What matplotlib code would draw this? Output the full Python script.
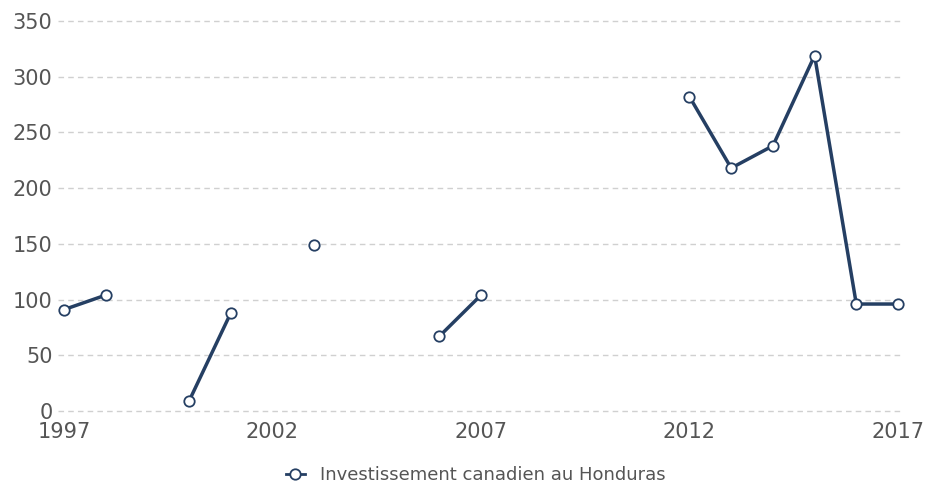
import numpy as np
import matplotlib
matplotlib.use("Agg")
import matplotlib.pyplot as plt
from matplotlib.lines import Line2D

plt.rcParams['font.family'] = ['DejaVu Sans']

years = list(range(1997, 2018))
values = [91, 104, np.nan, 9, 88, np.nan, 149, np.nan, np.nan, 67, 104,
          np.nan, np.nan, np.nan, np.nan, 282, 218, 238, 319, 96, 96]
series_name = "Investissement canadien au Honduras"
xticks = [1997, 2002, 2007, 2012, 2017]
yticks = [0, 50, 100, 150, 200, 250, 300, 350]

color = "#253f63"
text_color = "#555555"

fig = plt.figure(figsize=(9.27, 4.86), dpi=100)
ax = fig.add_axes([58/927, 1-411/486, (902-58)/927, 390/486])

ax.plot(years, values, color=color, linewidth=2.5, marker="o",
        markersize=7.5, markerfacecolor="white", markeredgecolor=color,
        markeredgewidth=1.3, clip_on=False, zorder=3)

ax.set_xlim(1997 - 6/41.7, 2017 + 4/41.7)
ax.set_ylim(0, 350)
ax.set_xticks(xticks)
ax.set_yticks(yticks)
ax.grid(axis="y", color="#d0d0d0", linestyle=(0, (4, 3)), linewidth=1)
for gl in ax.get_ygridlines():
    gl.set_clip_on(False)
ax.set_axisbelow(True)
for s in ax.spines.values():
    s.set_visible(False)
ax.tick_params(length=0, labelsize=15, labelcolor=text_color)
ax.tick_params(axis="y", pad=4)
ax.tick_params(axis="x", pad=8)
for lbl in ax.get_yticklabels():
    lbl.set_verticalalignment("center_baseline")

handle = Line2D([], [], color=color, linewidth=2, marker="o", markersize=7.5,
                markerfacecolor="white", markeredgecolor=color, markeredgewidth=1.3)
fig.legend([handle], [series_name], loc="center",
           bbox_to_anchor=(0.5 + 12/927, 1-475/486),
           frameon=False, fontsize=13, labelcolor=text_color, handlelength=1.1,
           handletextpad=0.8)

fig.savefig("out.png", dpi=100)
